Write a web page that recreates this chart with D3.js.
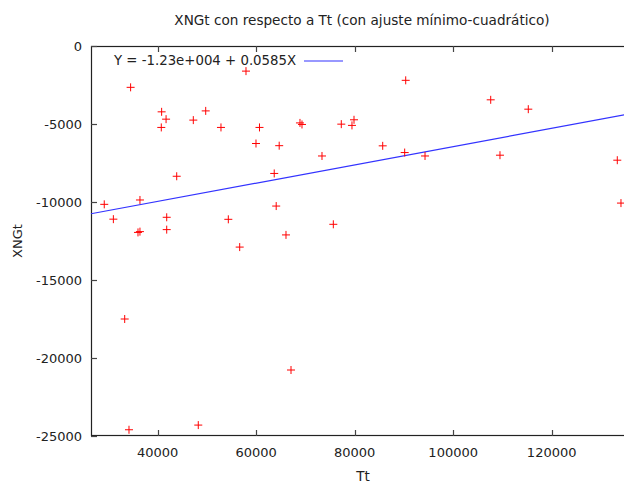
<!DOCTYPE html>
<html lang="es">
<head>
<meta charset="UTF-8">
<title>XNGt con respecto a Tt</title>
<script src="https://cdn.jsdelivr.net/npm/d3@7"></script>
<style>
	body { margin: 0; background: #fff; }
	text { font-family: "DejaVu Sans", sans-serif; fill: #222; }
</style>
</head>
<body>
<div id="chart"></div>
<script>
	// data
	var tt = [29150, 31000, 34500, 33300, 34170, 36000, 36400, 36400, 40800, 41700,
		40730, 41830, 41830, 43860, 47230, 49750, 52850, 48240, 54340, 56650,
		57930, 59960, 60670, 63660, 64060, 64670, 66050, 67070, 68890, 69300,
		73360, 75660, 77280, 79450, 79860, 85690, 90150, 90360, 94280, 107620,
		109500, 115250, 133320, 134070];
	var xngt = [-10150, -11100, -2650, -17500, -24600, -11950, -11900, -9870, -4220, -4690,
		-5220, -10980, -11770, -8350, -4750, -4160, -5220, -24300, -11110, -12890,
		-1610, -6250, -5220, -8170, -10260, -6390, -12110, -20770, -4930, -5030,
		-7050, -11430, -5010, -5090, -4730, -6400, -6830, -2200, -7050, -3450,
		-7000, -4050, -7320, -10070];
	var fitA = -12300, fitB = 0.0585;
	var xTicks = [40000, 60000, 80000, 100000, 120000];
	var yTicks = [0, -5000, -10000, -15000, -20000, -25000];

	var w = 624, h = 485;
	var margin = {top: 46, left: 91, right: -2, bottom: 49};
	var width = w - margin.left - margin.right,
		height = h - margin.top - margin.bottom;

	var svg = d3.select("#chart").append("svg")
		.attr("width", w).attr("height", h);

	var x = d3.scaleLinear().domain([26457, 135090]).range([0, width]);
	var y = d3.scaleLinear().domain([-25000, 0]).range([height, 0]);

	var g = svg.append("g").attr("transform", `translate(${margin.left},${margin.top})`);

	// border (right side falls outside the picture)
	g.append("rect")
		.attr("x", 0.5).attr("y", 0.5)
		.attr("width", width).attr("height", height - 1)
		.attr("fill", "none").attr("stroke", "#222").attr("stroke-width", 1.2);

	// ticks, gnuplot style: inward, mirrored
	g.selectAll(".xt").data(xTicks).enter().append("path")
		.attr("d", d => `M${Math.round(x(d)) + 0.5},${height}v-6M${Math.round(x(d)) + 0.5},0v6`)
		.attr("stroke", "#444").attr("stroke-width", 1.2);
	g.selectAll(".yt").data(yTicks).enter().append("path")
		.attr("d", d => `M0,${Math.round(y(d)) + 0.5}h6`)
		.attr("stroke", "#444").attr("stroke-width", 1.2);

	g.selectAll(".xl").data(xTicks).enter().append("text")
		.attr("x", d => x(d)).attr("y", height + 21)
		.attr("text-anchor", "middle").attr("font-size", 13)
		.text(d => d);
	g.selectAll(".yl").data(yTicks).enter().append("text")
		.attr("x", -9).attr("y", d => y(d) + 5)
		.attr("text-anchor", "end").attr("font-size", 13)
		.text(d => d);

	// fit line
	g.append("line")
		.attr("x1", 0).attr("y1", y(fitA + fitB * x.domain()[0]))
		.attr("x2", width).attr("y2", y(fitA + fitB * x.domain()[1]))
		.attr("stroke", "#3333ff").attr("stroke-width", 1.2);

	// points
	var pts = d3.range(tt.length).map(i => ({x: tt[i], y: xngt[i]}));
	g.selectAll(".pt").data(pts).enter().append("path")
		.attr("d", d => {
			var px = x(d.x), py = y(d.y);
			return `M${px - 4},${py}h8M${px},${py - 4}v8`;
		})
		.attr("stroke", "#ff0000").attr("stroke-width", 1);

	// legend
	g.append("text").attr("x", 23).attr("y", 19)
		.attr("font-size", 13.3).text("Y = -1.23e+004 + 0.0585X");
	g.append("line")
		.attr("x1", 213).attr("x2", 252).attr("y1", 15).attr("y2", 15)
		.attr("stroke", "#3333ff").attr("stroke-width", 1.2);

	// titles
	svg.append("text").attr("x", 362).attr("y", 25)
		.attr("text-anchor", "middle").attr("font-size", 13.6)
		.text("XNGt con respecto a Tt (con ajuste mínimo-cuadrático)");
	svg.append("text").attr("x", 363).attr("y", 481)
		.attr("text-anchor", "middle").attr("font-size", 13.5)
		.text("Tt");
	svg.append("text")
		.attr("transform", "translate(22,241) rotate(-90)")
		.attr("text-anchor", "middle").attr("font-size", 13)
		.text("XNGt");
</script>
</body>
</html>
